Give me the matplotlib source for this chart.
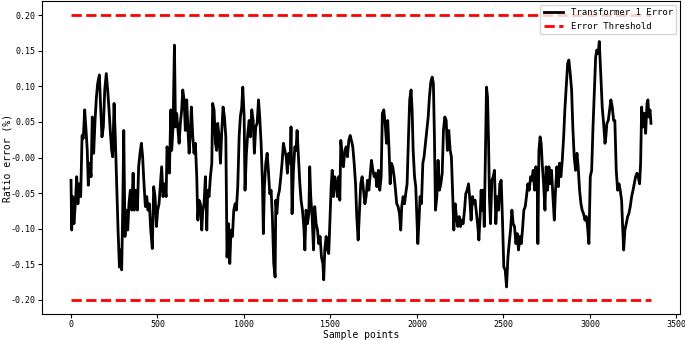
import numpy as np
import matplotlib
matplotlib.use('Agg')
import matplotlib.pyplot as plt

# Values (sample index, ratio error in %)
sample_idx = [
    0, 4, 10, 17, 25, 33, 40, 48, 56, 64, 71, 79, 87, 94, 100, 108, 116, 123, 131, 139,
    147, 154, 164, 172, 179, 187, 195, 204, 212, 220, 228, 235, 241, 249, 256, 264, 272, 280, 287, 293,
    299, 305, 312, 320, 328, 335, 343, 351, 359, 366, 374, 384, 391, 399, 407, 414, 422, 430, 438, 445,
    453, 461, 470, 478, 486, 494, 501, 509, 517, 524, 532, 540,
    550, 555, 563, 569, 577, 582, 590, 598, 604, 611, 617, 625, 632, 640, 646, 654, 661, 669, 677, 683,
    690, 696, 704, 711, 719, 727, 733, 740, 748, 756, 762, 769, 777, 785, 790, 798, 806, 814, 819, 827,
    835, 842, 848, 856, 864, 871, 879, 887, 895, 902, 910, 918, 925, 933, 941, 949, 956, 964, 972, 979,
    987, 993, 1001, 1006, 1014, 1022, 1030, 1037, 1045, 1053, 1060, 1068, 1076, 1084, 1091, 1099, 1107, 1112, 1118, 1126,
    1134, 1141, 1149, 1157, 1164, 1172, 1180,
    1184, 1190, 1197, 1205, 1213, 1220, 1228, 1236, 1244, 1251, 1259, 1267, 1272, 1278, 1286, 1294, 1301, 1307, 1315, 1323,
    1330, 1338, 1346, 1352, 1359, 1367, 1375, 1380, 1386, 1394, 1402, 1409, 1417, 1425, 1432, 1440, 1448, 1456, 1461, 1467,
    1475, 1483, 1490, 1498, 1504, 1510, 1517, 1525, 1533, 1540, 1548, 1554, 1560, 1567, 1575, 1583, 1591, 1598, 1606, 1614,
    1621, 1629, 1637, 1645, 1652, 1660, 1668, 1675, 1683, 1691, 1699, 1706, 1714, 1722, 1729, 1737, 1745, 1753,
    1760, 1768, 1777, 1785, 1793, 1800, 1808, 1816, 1824, 1831, 1839, 1845, 1852, 1860, 1868, 1876, 1883, 1891, 1899, 1906,
    1912, 1920, 1928, 1935, 1943, 1951, 1958, 1966, 1972, 1978, 1986, 1993, 2001, 2005, 2011, 2018, 2026, 2034, 2041, 2049,
    2057, 2065, 2072, 2080, 2088, 2095, 2101, 2107, 2115, 2122, 2130, 2138, 2146, 2153, 2161, 2169, 2176, 2184, 2192, 2199,
    2207, 2213, 2221, 2228, 2236, 2244, 2252, 2259, 2267, 2275, 2282, 2290, 2298, 2306, 2313, 2321, 2329, 2336, 2344, 2352,
    2358, 2365,
    2371, 2377, 2383, 2389, 2396, 2402, 2408, 2414, 2419, 2425, 2433, 2441, 2448, 2456, 2464, 2472, 2479, 2487, 2495, 2502,
    2510, 2518, 2526, 2533, 2541, 2549, 2556, 2564, 2572, 2580, 2587, 2595, 2603, 2610, 2618, 2626, 2633, 2641, 2649, 2657,
    2664, 2672, 2680, 2687, 2695, 2699, 2705, 2712, 2718, 2724, 2732, 2740, 2747, 2755, 2763, 2770, 2778, 2786, 2794, 2801,
    2809, 2817, 2824, 2832, 2840, 2848, 2855, 2863, 2871, 2878, 2886, 2894, 2901, 2909, 2917, 2925, 2932, 2940,
    2948, 2955, 2963, 2971, 2979, 2986, 2994, 3002, 3010, 3017, 3025, 3033, 3040, 3048, 3054, 3060, 3065, 3071, 3079, 3087,
    3092, 3098, 3106, 3114, 3121, 3129, 3137, 3144, 3152, 3160, 3168, 3175, 3183, 3189, 3195, 3202, 3210, 3218, 3225, 3233,
    3241, 3249, 3256, 3264, 3272, 3279, 3287, 3293, 3299, 3306, 3314, 3322, 3330, 3335, 3341, 3347, 3353,
]
ratio_err = [
    -0.032, -0.102, -0.055, -0.093, -0.065, -0.027, -0.065, -0.037, -0.055, 0.031, 0.027, 0.067, 0.038, 0.010, -0.039, -0.008, -0.027, 0.057, 0.006, 0.052,
    0.085, 0.104, 0.116, 0.067, 0.029, 0.043, 0.095, 0.118, 0.095, 0.067, 0.034, 0.010, 0.001, 0.076, 0.029, -0.037, -0.102, -0.154, -0.130, -0.158,
    -0.074, 0.038, -0.111, -0.074, -0.102, -0.065, -0.046, -0.074, -0.022, -0.074, -0.046, -0.074, -0.013, 0.006, 0.020, 0.001, -0.037, -0.069, -0.055, -0.074,
    -0.065, -0.102, -0.128, -0.041, -0.055, -0.097, -0.074, -0.065, -0.037, -0.013, -0.055, -0.037,
    -0.055, 0.015, 0.001, -0.022, 0.067, 0.010, 0.043, 0.158, 0.043, 0.062, 0.043, 0.020, 0.048, 0.067, 0.095, 0.081, 0.038, 0.081, 0.034, 0.006,
    0.038, 0.071, 0.029, 0.006, 0.020, -0.027, -0.088, -0.060, -0.065, -0.102, -0.074, -0.065, -0.027, -0.102, -0.046, -0.055, -0.027, -0.008, 0.076, 0.067,
    0.020, 0.010, 0.048, 0.029, -0.008, 0.034, 0.071, 0.057, 0.029, -0.140, -0.093, -0.149, -0.102, -0.111, -0.074, -0.065, -0.074, -0.041, 0.029, 0.057,
    0.071, 0.099, 0.057, -0.046, 0.006, 0.034, 0.052, 0.029, 0.067, 0.052, 0.006, 0.043, 0.048, 0.081, 0.057, 0.020, -0.037, -0.107, -0.041, -0.008,
    0.006, -0.018, -0.051, -0.046, -0.083, -0.149, -0.168,
    -0.060, -0.079, -0.055, -0.046, -0.027, -0.008, 0.020, 0.010, 0.001, -0.022, 0.006, -0.008, 0.043, -0.079, -0.018, 0.015, 0.010, 0.038, 0.001, -0.037,
    -0.060, -0.074, -0.097, -0.130, -0.074, -0.093, -0.079, -0.013, -0.055, -0.083, -0.130, -0.069, -0.093, -0.102, -0.121, -0.111, -0.140, -0.149, -0.172, -0.130,
    -0.111, -0.130, -0.135, -0.083, -0.041, -0.018, -0.055, -0.027, -0.037, -0.055, -0.027, -0.060, 0.024, 0.001, -0.013, 0.010, 0.015, 0.001, 0.024, 0.031,
    0.024, 0.015, -0.008, -0.037, -0.083, -0.116, -0.074, -0.037, -0.027, -0.046, -0.065, -0.055, -0.032, -0.046, -0.027, -0.004, -0.018, -0.027,
    -0.022, -0.041, -0.018, -0.046, -0.027, 0.062, 0.067, 0.048, 0.020, 0.052, 0.010, -0.037, -0.008, -0.013, -0.027, -0.046, -0.065, -0.069, -0.079, -0.102,
    -0.069, -0.055, -0.065, -0.051, -0.037, 0.029, 0.081, 0.095, 0.067, 0.010, -0.027, -0.041, -0.093, -0.121, -0.093, -0.055, -0.065, -0.008, 0.001, 0.020,
    0.038, 0.057, 0.085, 0.106, 0.113, 0.104, 0.029, -0.074, -0.055, -0.004, -0.046, -0.037, -0.022, 0.038, 0.057, 0.052, 0.010, 0.038, 0.010, 0.001,
    -0.055, -0.102, -0.065, -0.083, -0.097, -0.083, -0.097, -0.088, -0.093, -0.074, -0.051, -0.046, -0.037, -0.060, -0.088, -0.055, -0.065, -0.060, -0.079, -0.097,
    -0.116, -0.083,
    -0.046, -0.074, -0.046, -0.097, 0.010, 0.099, 0.085, 0.020, -0.055, -0.093, -0.032, -0.027, -0.018, -0.093, -0.055, -0.074, -0.037, -0.032, -0.093, -0.154,
    -0.158, -0.182, -0.140, -0.121, -0.102, -0.074, -0.093, -0.097, -0.121, -0.107, -0.130, -0.111, -0.121, -0.102, -0.074, -0.069, -0.055, -0.037, -0.046, -0.027,
    -0.032, -0.018, -0.046, -0.013, -0.027, -0.121, 0.010, 0.029, 0.020, -0.008, -0.037, -0.074, -0.013, -0.046, -0.013, -0.037, -0.018, -0.055, -0.088, -0.046,
    -0.013, -0.041, -0.008, -0.027, -0.004, 0.029, 0.067, 0.099, 0.132, 0.137, 0.118, 0.095, 0.043, 0.001, -0.018, 0.006, -0.013, -0.046,
    -0.065, -0.074, -0.079, -0.088, -0.083, -0.097, -0.121, -0.027, -0.018, 0.038, 0.090, 0.141, 0.151, 0.146, 0.163, 0.132, 0.104, 0.071, 0.048, 0.020,
    0.029, 0.048, 0.052, 0.067, 0.081, 0.071, 0.052, 0.052, -0.018, -0.046, -0.037, -0.046, -0.060, -0.097, -0.130, -0.102, -0.093, -0.083, -0.079, -0.069,
    -0.055, -0.046, -0.037, -0.027, -0.022, -0.027, -0.037, -0.008, 0.071, 0.043, 0.062, 0.034, 0.076, 0.081, 0.057, 0.067, 0.048,
]
threshold = 0.2

plt.rcParams['font.family'] = ['DejaVu Sans Mono']

fig = plt.figure(figsize=(6.85, 3.4), dpi=100)
ax = fig.add_axes([42/685, 26/340, 638/685, 313/340])

ax.plot(sample_idx, ratio_err, color='black', linewidth=2, label='Transformer 1 Error')
ax.plot(sample_idx, [threshold]*len(sample_idx), 'r--', linewidth=2, label='Error Threshold')
ax.plot(sample_idx, [-threshold]*len(sample_idx), 'r--', linewidth=2)

ax.set_yticks(np.arange(-0.20, 0.21, 0.05))
ax.yaxis.set_major_formatter(matplotlib.ticker.FormatStrFormatter('%.2f'))
ax.set_xticks(np.arange(0, 3501, 500))
ax.tick_params(labelsize=6, length=3, pad=1.5)
ax.set_xlabel('Sample points', fontsize=7)
ax.set_ylabel('Ratio error (%)', fontsize=7)
ax.xaxis.set_label_coords(0.5, -0.052)
ax.yaxis.set_label_coords(-0.047, 0.5)
ax.legend(loc='upper right', fontsize=6.5, borderaxespad=0.4, handlelength=2.2)

fig.savefig('out.png', dpi=100)
